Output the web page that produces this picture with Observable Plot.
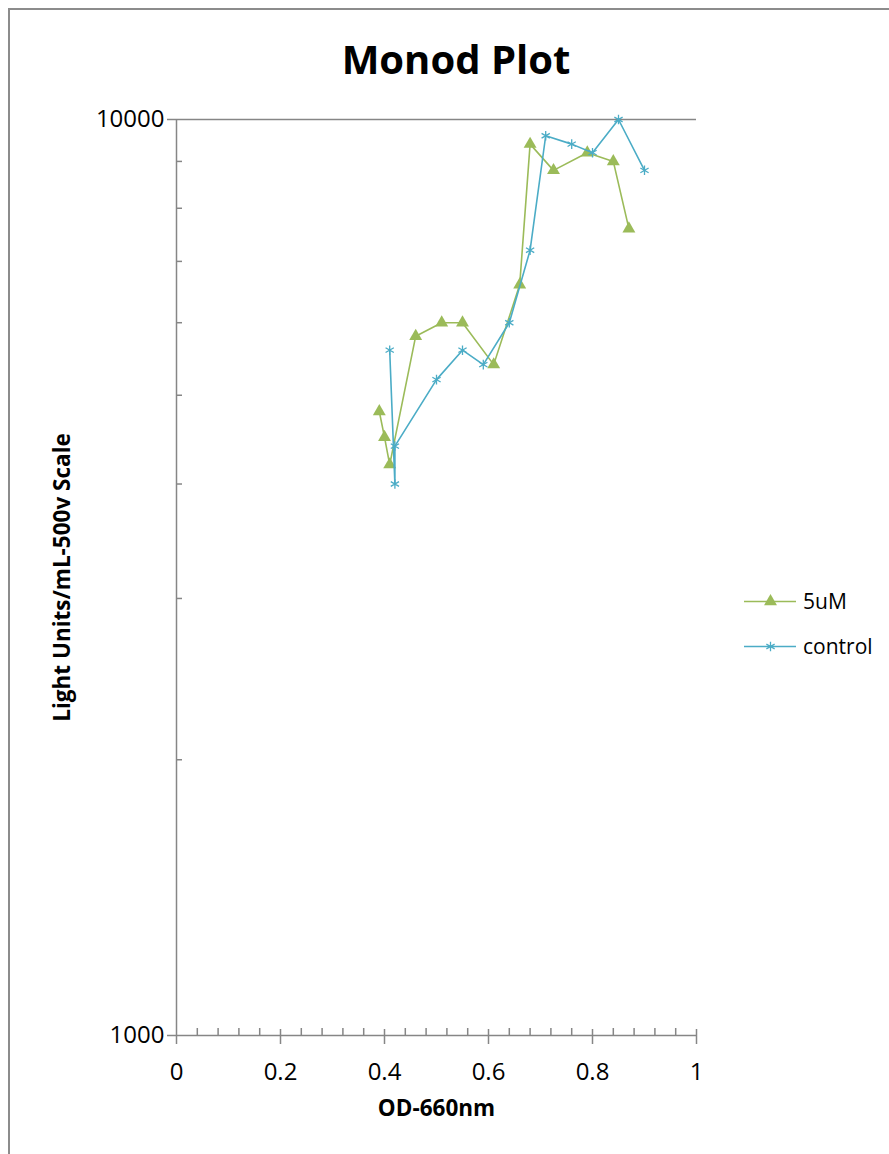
<!DOCTYPE html>
<html>
<head>
<meta charset="utf-8">
<script src="https://cdn.jsdelivr.net/npm/d3@7"></script>
<script src="https://cdn.jsdelivr.net/npm/@observablehq/plot@0.6"></script>
<style>
  html, body { margin: 0; padding: 0; background: #fff; overflow: hidden; }
  #wrap { position: relative; width: 889px; height: 1154px; font-family: "Open Sans", sans-serif; }
  #frame { position: absolute; left: 8px; top: 8px; width: 900px; height: 1200px; border: 2px solid #8c8c8c; box-sizing: border-box; }
  #chart { position: absolute; left: 0; top: 0; }
  #title { position: absolute; left: 0; width: 912px; top: 39px; text-align: center; font-size: 40px; line-height: 40px; font-weight: 700; color: #000; }
  .leg { position: absolute; left: 744px; height: 24px; display: flex; align-items: center; font-size: 21px; color: #000; }
  .leg svg { margin-right: 7px; }
</style>
</head>
<body>
<div id="wrap">
  <div id="frame"></div>
  <div id="chart"></div>
  <div id="title">Monod Plot</div>
  <div id="legend"></div>
</div>
<script>
// ---- data ----
const series = ["5uM", "control"];
const colors = ["#9BBB59", "#4BACC6"];
const od5uM = [0.39, 0.40, 0.41, 0.46, 0.51, 0.55, 0.61, 0.66, 0.68, 0.725, 0.79, 0.84, 0.87];
const light5uM = [4800, 4500, 4200, 5800, 6000, 6000, 5400, 6600, 9400, 8800, 9200, 9000, 7600];
const odControl = [0.41, 0.42, 0.42, 0.50, 0.55, 0.59, 0.64, 0.68, 0.71, 0.76, 0.80, 0.85, 0.90];
const lightControl = [5600, 4000, 4400, 5200, 5600, 5400, 6000, 7200, 9600, 9400, 9200, 10000, 8800];
const xTicks = [0, 0.2, 0.4, 0.6, 0.8, 1];
const xMinorTicks = [0.04,0.08,0.12,0.16,0.24,0.28,0.32,0.36,0.44,0.48,0.52,0.56,0.64,0.68,0.72,0.76,0.84,0.88,0.92,0.96];
const yTicks = [1000, 10000];
const yMinorTicks = [2000, 3000, 4000, 5000, 6000, 7000, 8000, 9000];
const xTitle = "OD-660nm";
const yTitle = "Light Units/mL-500v Scale";

const d5 = od5uM.map((x, i) => ({x, y: light5uM[i]}));
const dC = odControl.map((x, i) => ({x, y: lightControl[i]}));

const axisColor = "#868686";

const chart = Plot.plot({
  width: 889,
  height: 1154,
  marginLeft: 176,
  marginRight: 193,
  marginTop: 119,
  marginBottom: 119,
  style: { fontFamily: "Open Sans, sans-serif", background: "transparent", overflow: "visible" },
  x: { domain: [0, 1] },
  y: { type: "log", domain: [1000, 10000] },
  marks: [
    Plot.ruleY([10000], { stroke: axisColor, strokeWidth: 1.5, insetLeft: -9 }),
    Plot.ruleY([1000], { stroke: axisColor, strokeWidth: 1.5, insetLeft: -9 }),
    Plot.ruleX([0], { stroke: axisColor, strokeWidth: 1.5, insetBottom: -9 }),
    Plot.ruleX(xTicks.slice(1), { stroke: axisColor, strokeWidth: 1.5, insetTop: 910, insetBottom: -9 }),
    Plot.ruleX(xMinorTicks, { stroke: axisColor, strokeWidth: 1.5, insetTop: 909 }),
    Plot.ruleY(yMinorTicks, { stroke: axisColor, strokeWidth: 1.5, insetRight: 514 }),
    Plot.axisX(xTicks, { tickSize: 0, tickPadding: 27, tickFormat: d3.format("~g"), fontSize: 24, fill: "#000", label: null }),
    Plot.axisY(yTicks, { tickSize: 0, tickPadding: 12, tickFormat: d => String(d), fontSize: 24, fill: "#000", label: null }),
    Plot.text([xTitle], { frameAnchor: "bottom", dy: 80, fontSize: 22.5, fontWeight: "bold", fill: "#000" }),
    Plot.text([yTitle], { frameAnchor: "left", textAnchor: "middle", dx: -114, rotate: -90, fontSize: 22.5, fontWeight: "bold", fill: "#000" }),
    Plot.line(d5, { x: "x", y: "y", stroke: colors[0], strokeWidth: 1.6 }),
    Plot.dot(d5, { x: "x", y: "y", symbol: "triangle", fill: colors[0], r: 4.8 }),
    Plot.line(dC, { x: "x", y: "y", stroke: colors[1], strokeWidth: 1.6 }),
    Plot.dot(dC, { x: "x", y: "y", symbol: "asterisk", stroke: colors[1], strokeWidth: 1.3, r: 4.5 })
  ]
});
document.getElementById("chart").appendChild(chart);

// legend
const legend = document.getElementById("legend");
const legendTops = [589, 634];
series.forEach((name, i) => {
  const row = document.createElement("div");
  row.className = "leg";
  row.style.top = legendTops[i] + "px";
  const sym = Plot.plot({
    width: 52, height: 24, margin: 0,
    x: { domain: [0, 1], axis: null },
    y: { domain: [0, 1], axis: null },
    style: { background: "transparent" },
    marks: [
      Plot.ruleY([0.5], { stroke: colors[i], strokeWidth: 1.6 }),
      i === 0
        ? Plot.dot([{x: 0.5, y: 0.5}], { x: "x", y: "y", symbol: "triangle", fill: colors[i], r: 4.8 })
        : Plot.dot([{x: 0.5, y: 0.5}], { x: "x", y: "y", symbol: "asterisk", stroke: colors[i], strokeWidth: 1.3, r: 4.5 })
    ]
  });
  row.appendChild(sym);
  const label = document.createElement("span");
  label.textContent = name;
  row.appendChild(label);
  legend.appendChild(row);
});
</script>
</body>
</html>
